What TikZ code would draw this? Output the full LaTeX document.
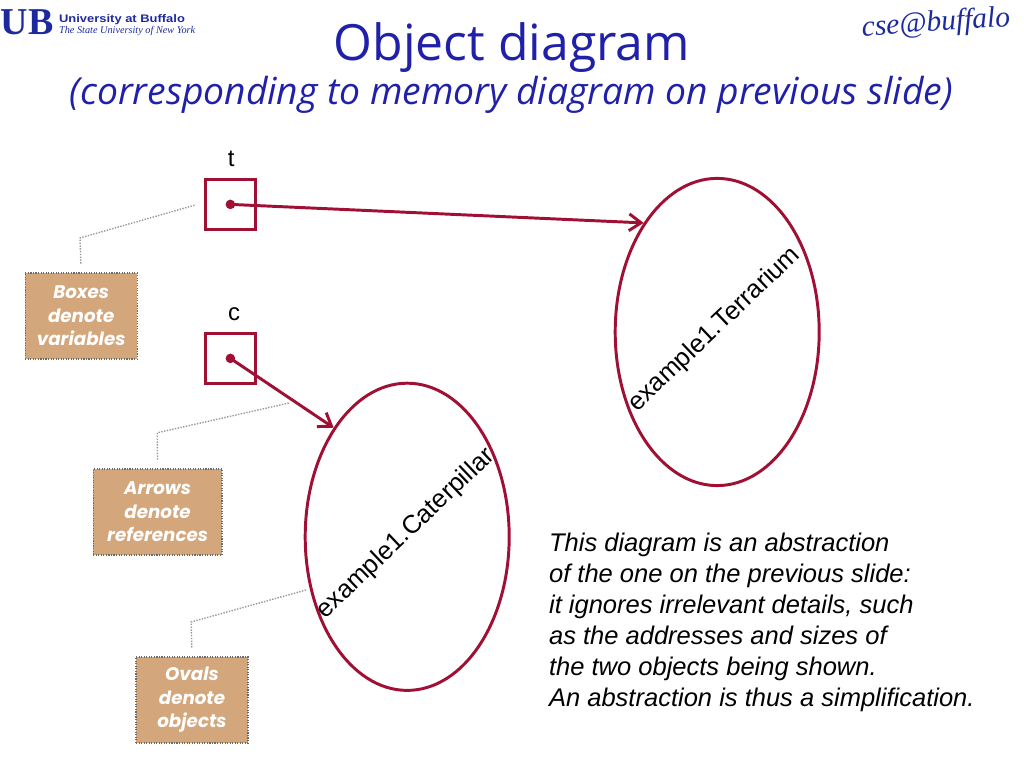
\documentclass[tikz,border=0pt]{standalone}
\usepackage{fontspec}
\setmainfont{Liberation Sans}
\newfontfamily\titlefont{Open Sans}
\newfontfamily\notefont{Poppins}
\newfontfamily\logofont{Liberation Serif}
\usetikzlibrary{arrows.meta,shapes.geometric}
\definecolor{ubBlue}{HTML}{1C2A9E}
\definecolor{titleBlue}{HTML}{2020A8}
\definecolor{refRed}{HTML}{A01035}
\definecolor{noteTan}{HTML}{D3A67C}
\definecolor{leaderGray}{HTML}{999999}
\tikzset{
  varbox/.style={draw=refRed, line width=2.1pt, minimum size=1.25cm, inner sep=0},
  refdot/.style={circle, fill=refRed, minimum size=0.24cm, inner sep=0},
  objoval/.style={ellipse, draw=refRed, line width=2.1pt, minimum width=5.1cm, minimum height=7.68cm, inner sep=0},
  objname/.style={font=\fontsize{18.2}{22}\selectfont, rotate=43.5, inner sep=0},
  refarrow/.style={draw=refRed, line width=2.1pt, -{Straight Barb[length=0.3cm,width=0.42cm]}},
  notebox/.style={draw=leaderGray!70!black, densely dotted, line width=0.8pt, fill=noteTan, text=white, align=center, minimum height=2.15cm, inner sep=0,
    font=\notefont\itshape\bfseries\fontsize{13}{16.7}\selectfont, execute at begin node={\vspace*{0.08cm}}},
  leader/.style={draw=leaderGray, densely dotted, line width=1pt, shorten <=0.22cm},
}
\begin{document}
\begin{tikzpicture}
  \useasboundingbox (0,0) rectangle (25.6,19.2);
  \node[font=\logofont\bfseries\fontsize{27}{27}\selectfont, text=ubBlue, inner sep=0] (ublogo) at (0.68,18.65) {UB};
  \node[font=\bfseries\fontsize{7.8}{9}\selectfont, text=ubBlue, xscale=1.18, anchor=west, inner sep=0] (ubname) at (1.47,18.7) {University at Buffalo};
  \node[font=\logofont\itshape\fontsize{7.3}{9}\selectfont, text=ubBlue, anchor=west, inner sep=0] (ubstate) at (1.47,18.42) {The State University of New York};
  \node[font=\logofont\itshape\fontsize{21}{21}\selectfont, text=ubBlue, rotate=4, inner sep=0] (cselogo) at (23.4,18.6) {cse@buffalo};

  \node[font=\titlefont\fontsize{35.5}{40}\selectfont, text=titleBlue, inner sep=0] (title) at (12.8,18.0) {Object diagram};
  \node[font=\titlefont\itshape\fontsize{26.5}{30}\selectfont, text=titleBlue, inner sep=0] (subtitle) at (12.78,16.82) {(corresponding to memory diagram on previous slide)};

  \node[varbox] (tbox) at (5.76,14.09) {};
  \node[varbox] (cbox) at (5.76,10.24) {};
  \node[refdot] (tdot) at (tbox) {};
  \node[refdot] (cdot) at (cbox) {};
  \node[font=\fontsize{17}{20}\selectfont, inner sep=0] (tname) at (5.78,15.24) {t};
  \node[font=\fontsize{17}{20}\selectfont, inner sep=0] (cname) at (5.85,11.34) {c};

  \node[objoval] (terrarium) at (17.93,10.9) {};
  \node[objoval] (caterpillar) at (10.18,5.78) {};
  \node[objname] (terrariumname) at (17.87,10.96) {example1.Terrarium};
  \node[objname] (caterpillarname) at (10.15,5.86) {example1.Caterpillar};

  \draw[refarrow] (tdot.center) -- (terrarium.124);
  \draw[refarrow] (cdot.center) -- (caterpillar.124);

  \node[notebox, minimum width=2.8cm] (boxesnote) at (2.03,11.3) {Boxes\\denote\\variables};
  \node[notebox, minimum width=3.22cm] (arrowsnote) at (3.94,6.4) {Arrows\\denote\\references};
  \node[notebox, minimum width=2.8cm] (ovalsnote) at (4.8,1.7) {Ovals\\denote\\objects};

  \coordinate (boxesbend) at (2.0,13.25);
  \coordinate (boxestip) at (4.9,14.08);
  \coordinate (arrowsbend) at (3.93,8.38);
  \coordinate (arrowstip) at (7.25,9.13);
  \coordinate (ovalsbend) at (4.78,3.65);
  \coordinate (ovalstip) at (7.65,4.45);
  \draw[leader] (boxesnote.north) -- (boxesbend) -- (boxestip);
  \draw[leader] (arrowsnote.north) -- (arrowsbend) -- (arrowstip);
  \draw[leader] (ovalsnote.north) -- (ovalsbend) -- (ovalstip);

  \node[font=\itshape\fontsize{18.15}{22}\selectfont, align=left, anchor=west, inner sep=0] (abstraction) at (13.72,3.64)
    {This diagram is an abstraction\\of the one on the previous slide:\\it ignores irrelevant details, such\\as the addresses and sizes of\\the two objects being shown.\\An abstraction is thus a simplification.};
\end{tikzpicture}
\end{document}
